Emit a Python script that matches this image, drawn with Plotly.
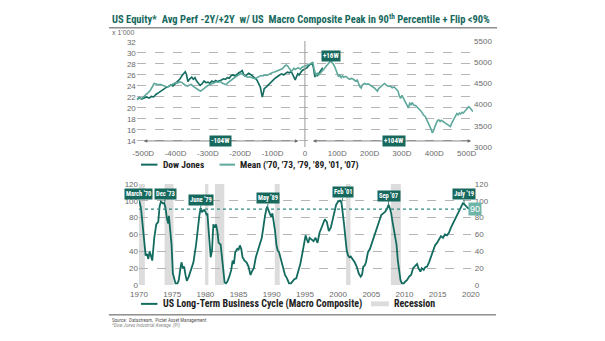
import plotly.graph_objects as go

# ---------------- data ----------------
# Top panel: trading days relative to the macro-composite flip
dow_days = [-520, -512, -505, -498, -490, -482, -475, -468, -460, -452, -445, -438, -430, -422,
            -415, -408, -400, -393, -386, -380, -374, -370, -366, -362, -356, -350, -345, -340,
            -335, -330, -324, -318, -312, -306, -300, -294, -288, -282, -276, -270, -264, -258,
            -252, -246, -240, -234, -228, -222, -216, -210, -204, -198, -194, -190, -185, -180,
            -174, -168, -162, -156, -150, -146, -142, -138, -135, -132, -129, -126, -120, -114,
            -108, -102, -96, -90, -84, -78, -72, -66, -60, -54, -48, -42, -38, -34, -30, -26,
            -22, -18, -14, -10, -6, -2, 2, 6, 10, 14, 18, 22, 26, 28, 31, 34, 38, 42, 46, 50, 55]
dow_values = [21.5, 21.9, 21.6, 21.8, 22.0, 21.8, 22.1, 22.0, 22.5, 22.8, 23.1, 23.5, 23.7, 23.9,
              24.2, 24.0, 24.5, 24.9, 25.3, 25.9, 26.3, 26.6, 26.0, 24.8, 25.3, 25.6, 25.2, 25.5,
              24.9, 24.5, 24.1, 24.4, 24.9, 24.6, 24.7, 24.5, 24.9, 24.7, 25.0, 24.8, 24.9, 25.1,
              25.3, 25.2, 25.5, 25.4, 25.9, 26.0, 25.8, 26.2, 26.4, 26.6, 26.8, 26.2, 25.8, 26.0,
              26.3, 26.1, 25.8, 25.6, 25.2, 24.8, 24.3, 23.8, 22.9, 22.0, 22.6, 23.5, 23.8, 24.2,
              24.6, 24.9, 25.2, 25.5, 25.8, 26.0, 26.2, 26.0, 26.3, 26.5, 26.4, 26.6, 26.1, 25.6,
              25.1, 25.7, 26.2, 26.0, 26.4, 26.7, 26.9, 27.0, 27.2, 27.3, 27.6, 27.8, 28.0, 28.2,
              27.4, 26.2, 25.6, 26.3, 25.8, 26.2, 26.6, 26.9, 27.3]

mean_days = [-520, -512, -505, -498, -490, -484, -478, -472, -466, -460, -454, -448, -442, -436,
             -430, -424, -418, -412, -406, -400, -394, -388, -382, -376, -370, -364, -358, -352,
             -346, -340, -334, -328, -322, -316, -310, -304, -298, -292, -286, -280, -274, -268,
             -262, -256, -250, -244, -238, -232, -226, -220, -214, -208, -202, -196, -190, -184,
             -178, -172, -166, -160, -154, -148, -142, -136, -130, -124, -118, -112, -106, -100,
             -94, -88, -82, -76, -70, -64, -58, -54, -50, -46, -42, -38, -34, -30, -26, -22, -18,
             -14, -10, -6, -2, 2, 6, 10, 14, 18, 22, 25, 28, 31, 34, 38, 42, 46, 50, 55, 60, 65,
             70, 75, 80, 84, 88, 92, 96, 100, 104, 108, 112, 116, 120, 126, 132, 138, 144, 150,
             156, 162, 166, 170, 174, 178, 184, 190, 196, 202, 208, 214, 220, 224, 228, 234, 240,
             246, 252, 258, 264, 270, 276, 282, 288, 292, 296, 300, 304, 308, 312, 316, 320, 324,
             328, 332, 336, 342, 348, 354, 360, 366, 372, 378, 382, 386, 390, 394, 398, 402, 406,
             410, 414, 418, 422, 428, 434, 440, 446, 450, 454, 458, 462, 466, 470, 474, 478, 482,
             486, 490, 494, 498, 502, 506, 510, 514, 518, 520]
mean_values = [4115, 4160, 4140, 4190, 4230, 4290, 4340, 4420, 4500, 4490, 4470, 4480, 4460, 4440,
               4430, 4420, 4450, 4480, 4500, 4520, 4510, 4540, 4530, 4490, 4460, 4440, 4470, 4480,
               4440, 4400, 4380, 4340, 4320, 4360, 4410, 4430, 4460, 4490, 4500, 4520, 4540, 4530,
               4550, 4510, 4480, 4470, 4520, 4560, 4600, 4640, 4660, 4690, 4720, 4740, 4700, 4680,
               4650, 4660, 4640, 4620, 4610, 4640, 4670, 4690, 4680, 4700, 4690, 4720, 4750, 4760,
               4770, 4790, 4810, 4820, 4850, 4900, 4940, 4920, 4870, 4820, 4790, 4820, 4860, 4830,
               4850, 4870, 4860, 4840, 4880, 4900, 4910, 4920, 4930, 4940, 4950, 4960, 4980, 4990,
               4850, 4720, 4690, 4740, 4700, 4730, 4760, 4800, 4850, 4900, 4950, 4990, 5040, 4990,
               4960, 4900, 4820, 4740, 4660, 4700, 4640, 4680, 4650, 4670, 4630, 4600, 4620, 4600,
               4560, 4580, 4500, 4420, 4390, 4470, 4500, 4480, 4490, 4450, 4430, 4400, 4360, 4320,
               4380, 4420, 4470, 4500, 4460, 4430, 4440, 4400, 4420, 4380, 4320, 4200, 4150, 4220,
               4160, 4080, 4020, 3960, 3920, 4030, 4000, 4050, 3990, 3980, 3930, 3900, 3840, 3760,
               3720, 3620, 3560, 3480, 3420, 3330, 3380, 3480, 3560, 3620, 3640, 3600, 3630, 3600,
               3580, 3540, 3500, 3480, 3560, 3620, 3680, 3740, 3790, 3760, 3800, 3780, 3820, 3800,
               3840, 3880, 3920, 3950, 3930, 3900, 3850, 3860]

day_ticks = [-500, -400, -300, -200, -100, 0, 100, 200, 300, 400, 500]
day_tick_text = ["-500D", "-400D", "-300D", "-200D", "-100D", "0", "100D", "200D", "300D", "400D", "500D"]

# Bottom panel: US long-term business cycle (macro composite), 0-100 scale
cycle_years = [1970.0, 1970.1, 1970.3, 1970.6, 1970.8, 1971.0, 1971.2, 1971.4, 1971.6, 1971.8,
               1972.0, 1972.3, 1972.6, 1972.9, 1973.1, 1973.3, 1973.6, 1973.8, 1974.0, 1974.2,
               1974.4, 1974.5, 1974.7, 1974.9, 1975.1, 1975.3, 1975.5, 1975.8, 1976.0, 1976.2,
               1976.4, 1976.6, 1976.8, 1977.0, 1977.2, 1977.5, 1977.8, 1978.2, 1978.6, 1978.9,
               1979.1, 1979.3, 1979.5, 1979.8, 1980.0, 1980.2, 1980.3, 1980.5, 1980.7, 1980.8,
               1981.0, 1981.2, 1981.4, 1981.6, 1981.8, 1982.0, 1982.3, 1982.5, 1982.7, 1982.9,
               1983.1, 1983.3, 1983.6, 1983.9, 1984.1, 1984.3, 1984.5, 1984.8, 1985.0, 1985.2,
               1985.4, 1985.6, 1985.9, 1986.2, 1986.5, 1986.8, 1987.0, 1987.3, 1987.6, 1987.9,
               1988.2, 1988.5, 1988.8, 1989.0, 1989.3, 1989.5, 1989.7, 1989.9, 1990.1, 1990.3,
               1990.5, 1990.7, 1990.9, 1991.1, 1991.4, 1991.7, 1992.0, 1992.3, 1992.6, 1992.9,
               1993.1, 1993.4, 1993.7, 1994.0, 1994.3, 1994.6, 1994.9, 1995.1, 1995.3, 1995.5,
               1995.7, 1996.0, 1996.3, 1996.6, 1996.9, 1997.2, 1997.5, 1997.8, 1998.0, 1998.3,
               1998.6, 1998.9, 1999.1, 1999.4, 1999.7, 2000.0, 2000.3, 2000.5, 2000.7, 2000.9,
               2001.1, 2001.3, 2001.5, 2001.7, 2001.9, 2002.2, 2002.5, 2002.8, 2003.1, 2003.4,
               2003.6, 2003.8, 2004.0, 2004.2, 2004.5, 2004.8, 2005.0, 2005.3, 2005.6, 2005.9,
               2006.2, 2006.5, 2006.8, 2007.1, 2007.4, 2007.6, 2007.8, 2008.0, 2008.2, 2008.4,
               2008.6, 2008.8, 2009.0, 2009.2, 2009.4, 2009.6, 2009.9, 2010.1, 2010.4, 2010.7,
               2011.0, 2011.3, 2011.6, 2011.9, 2012.1, 2012.4, 2012.6, 2012.9, 2013.1, 2013.4,
               2013.7, 2014.0, 2014.3, 2014.6, 2014.9, 2015.2, 2015.5, 2015.8, 2016.1, 2016.4,
               2016.7, 2017.0, 2017.3, 2017.6, 2017.9, 2018.2, 2018.5, 2018.8, 2019.0, 2019.3,
               2019.6, 2019.9]
cycle_values = [100, 98, 91, 64, 48, 35, 37, 31, 40, 33,
                29, 56, 72, 75, 93, 99, 97, 97, 91, 79,
                73, 82, 64, 48, 14, 8, 2, 2, 6, 18,
                27, 20, 22, 12, 5, 10, 18, 27, 48, 72,
                83, 91, 87, 89, 87, 83, 85, 64, 45, 33,
                41, 72, 68, 72, 64, 50, 48, 33, 14, 3,
                2, 4, 10, 18, 29, 25, 39, 43, 42, 47,
                43, 33, 29, 27, 22, 12, 16, 20, 33, 41,
                48, 56, 72, 83, 93, 89, 87, 81, 85, 75,
                64, 48, 41, 39, 31, 20, 12, 8, 2, 2,
                4, 7, 8, 16, 25, 37, 48, 59, 54, 50,
                56, 54, 52, 56, 50, 62, 68, 75, 78, 75,
                64, 68, 75, 85, 95, 99, 100, 98, 87, 72,
                56, 41, 35, 33, 34, 31, 27, 22, 14, 10,
                12, 22, 23, 27, 39, 43, 48, 54, 62, 70,
                77, 83, 85, 87, 91, 95, 91, 85, 75, 66,
                62, 48, 29, 14, 6, 2, 2, 4, 6, 10,
                12, 20, 22, 25, 20, 16, 20, 18, 21, 22,
                27, 33, 39, 47, 50, 54, 58, 56, 60, 59,
                62, 68, 73, 77, 81, 87, 93, 97, 96, 93,
                91, 90]

recessions = [(1969.95, 1970.88), (1973.85, 1975.2), (1979.95, 1980.45), (1981.45, 1982.85),
              (1990.45, 1991.2), (2001.2, 2001.87), (2007.95, 2009.45)]

# Peak labels: (label, peak year, peak value, label year, label height)
peak_labels = [("March '70", 1970.0, 100, 1969.9, 108), ("Dec '73", 1973.85, 97, 1974.0, 108),
               ("June '79", 1979.3, 91, 1979.3, 101), ("May '89", 1989.4, 93, 1989.45, 103),
               ("Feb '01", 2000.6, 99, 2000.8, 110), ("Sep '07", 2007.6, 95, 2007.6, 106),
               ("July '19", 2019.0, 96, 2018.9, 107.5)]
threshold = 90
year_ticks = [1970, 1975, 1980, 1985, 1990, 1995, 2000, 2005, 2010, 2015, 2020]
cycle_ticks = [0, 20, 40, 60, 80, 100, 120]
dow_ticks = [14, 16, 18, 20, 22, 24, 26, 28, 30, 32]
mean_ticks = [3000, 3500, 4000, 4500, 5000, 5500]

# ---------------- styling ----------------
W, H = 605, 341
DARK = "#136b5f"
LIGHT = "#5ea89c"
BOX = "#17695e"
GRID = "#b5b5b5"
TICK = "#6b6b6b"
NARROW = "Liberation Sans Narrow, Roboto Condensed, Arial Narrow, Liberation Sans, sans-serif"
SANS = "Liberation Sans, Arial, sans-serif"


def px_x(v):
    return v / W


def px_y(v):
    return 1 - v / H


fig = go.Figure()

fig.add_trace(go.Scatter(x=dow_days, y=dow_values, mode="lines", name="Dow Jones",
                         line=dict(color=DARK, width=1.6), xaxis="x", yaxis="y",
                         showlegend=False))
fig.add_trace(go.Scatter(x=mean_days, y=mean_values, mode="lines",
                         name="Mean ('70, '73, '79, '89, '01, '07)",
                         line=dict(color=LIGHT, width=1.6), xaxis="x", yaxis="y2",
                         showlegend=False))
fig.add_trace(go.Scatter(x=cycle_years, y=cycle_values, mode="lines",
                         name="US Long-Term Business Cycle (Macro Composite)",
                         line=dict(color=DARK, width=1.8), xaxis="x2", yaxis="y3",
                         showlegend=False))
# empty trace to carry the mirrored right-hand scale of the bottom panel
fig.add_trace(go.Scatter(x=[None], y=[None], xaxis="x2", yaxis="y4", showlegend=False,
                         hoverinfo="skip"))

top_dom = [px_y(147), px_y(38)]
bot_dom = [px_y(288.7), px_y(184.7)]
tickfont = dict(family=SANS, size=8, color=TICK)

fig.update_layout(
    width=W, height=H, margin=dict(l=0, r=0, t=0, b=0),
    paper_bgcolor="white", plot_bgcolor="white", showlegend=False,
    xaxis=dict(domain=[px_x(131.7), px_x(478.3)], range=[-520, 520], tickvals=day_ticks,
               ticktext=day_tick_text, tickfont=tickfont, showgrid=False, zeroline=False,
               showline=False, ticks="", anchor="y"),
    yaxis=dict(domain=top_dom, range=[12.88, 32.18], tickvals=dow_ticks, tickfont=tickfont,
               showgrid=True, gridcolor=GRID, griddash="dash", gridwidth=0.8, zeroline=False,
               showline=False, ticks="", anchor="x"),
    yaxis2=dict(overlaying="y", side="right", range=[2993, 5507], tickvals=mean_ticks,
                tickfont=tickfont, showgrid=False, zeroline=False, showline=False, ticks="",
                anchor="x"),
    xaxis2=dict(domain=[px_x(134), px_x(476)], range=[1970, 2020], tickvals=year_ticks,
                tickfont=tickfont, showgrid=False, zeroline=False, showline=False, ticks="",
                ticklabelstandoff=3, anchor="y3"),
    yaxis3=dict(domain=bot_dom, range=[0, 120], tickvals=cycle_ticks, tickfont=tickfont,
                showgrid=True, gridcolor=GRID, griddash="dash", gridwidth=0.8, zeroline=False,
                showline=False, ticks="", anchor="x2"),
    yaxis4=dict(overlaying="y3", side="right", range=[0, 120], tickvals=cycle_ticks,
                tickfont=tickfont, showgrid=False, zeroline=False, showline=False, ticks="",
                ticklabelstandoff=3, anchor="x2"),
)

shapes = []
annotations = []

# title and rules
annotations.append(dict(xref="paper", yref="paper", x=px_x(104), y=px_y(15), xanchor="left",
                        yanchor="middle", showarrow=False,
                        text="<b>US Equity*  Avg Perf -2Y/+2Y  w/ US  Macro Composite Peak in 90<sup>th</sup> Percentile + Flip <90%</b>",
                        font=dict(family=NARROW, size=10.5, color="#17695e")))
shapes.append(dict(type="line", xref="paper", yref="paper", x0=px_x(103), x1=px_x(503),
                   y0=px_y(24.5), y1=px_y(24.5), line=dict(color="#555555", width=1)))
shapes.append(dict(type="line", xref="paper", yref="paper", x0=px_x(103), x1=px_x(502),
                   y0=px_y(319.3), y1=px_y(319.3), line=dict(color="#555555", width=1)))
annotations.append(dict(xref="paper", yref="paper", x=px_x(104), y=px_y(29.5), xanchor="left",
                        yanchor="middle", showarrow=False, text="x 1'000",
                        font=dict(family=SANS, size=7, color=TICK)))

# zero line of the top panel
shapes.append(dict(type="line", xref="x", yref="paper", x0=0, x1=0, y0=top_dom[0], y1=top_dom[1],
                   line=dict(color="#9a9a9a", width=1)))

# -104W / +104W span arrows
for x0, x1 in [(-503, -20), (20, 514)]:
    annotations.append(dict(xref="x", yref="y", axref="x", ayref="y", x=x1, y=14, ax=x0, ay=14,
                            text="", showarrow=True, arrowhead=2, arrowside="end+start",
                            arrowsize=0.9, arrowwidth=0.8, arrowcolor="#6b6b6b"))
for lbl, xc in [("-104W", -262), ("+104W", 275)]:
    annotations.append(dict(xref="x", yref="y", x=xc, y=14, text="<b>" + lbl + "</b>",
                            showarrow=False, bgcolor=BOX, borderpad=1,
                            font=dict(family=NARROW, size=7, color="white")))
# +16W peak marker
annotations.append(dict(xref="x", yref="y2", axref="x", ayref="y2", x=80, y=5040, ax=80, ay=5150,
                        text="<b>+16W</b>", showarrow=True, arrowhead=0, arrowwidth=0.8,
                        arrowcolor=BOX, bgcolor=BOX, borderpad=1,
                        font=dict(family=NARROW, size=7, color="white")))

# top legend
shapes.append(dict(type="line", xref="paper", yref="paper", x0=px_x(136), x1=px_x(153),
                   y0=px_y(165), y1=px_y(165), line=dict(color=DARK, width=2)))
annotations.append(dict(xref="paper", yref="paper", x=px_x(157), y=px_y(165), xanchor="left",
                        yanchor="middle", showarrow=False, text="<b>Dow Jones</b>",
                        font=dict(family=NARROW, size=9.5, color="#222222")))
shapes.append(dict(type="line", xref="paper", yref="paper", x0=px_x(217), x1=px_x(233),
                   y0=px_y(165), y1=px_y(165), line=dict(color=LIGHT, width=2)))
annotations.append(dict(xref="paper", yref="paper", x=px_x(236), y=px_y(165), xanchor="left",
                        yanchor="middle", showarrow=False,
                        text="<b>Mean ('70, '73, '79, '89, '01, '07)</b>",
                        font=dict(family=NARROW, size=9.5, color="#222222")))

# recession bands
for r0, r1 in recessions:
    shapes.append(dict(type="rect", xref="x2", yref="y3", x0=max(r0, 1970), x1=r1, y0=0, y1=120,
                       fillcolor="#dcdcdc", line=dict(width=0), layer="below"))
# 90th percentile threshold
shapes.append(dict(type="line", xref="x2", yref="y3", x0=1970, x1=2020, y0=threshold,
                   y1=threshold, line=dict(color="#2f8a7e", width=1.2, dash="dot")))
annotations.append(dict(xref="paper", yref="y3", x=px_x(487), y=threshold, text=str(threshold),
                        showarrow=False, bgcolor="#6eb4a9", borderpad=1,
                        font=dict(family=SANS, size=9, color="white")))

# peak labels
for lbl, xp, yp, xb, yb in peak_labels:
    annotations.append(dict(xref="x2", yref="y3", axref="x2", ayref="y3", x=xp, y=yp, ax=xb,
                            ay=yb, text="<b>" + lbl + "</b>", showarrow=True, arrowhead=0,
                            arrowwidth=0.8, arrowcolor=BOX, bgcolor=BOX, borderpad=1,
                            font=dict(family=NARROW, size=6.5, color="white")))

# bottom legend
shapes.append(dict(type="line", xref="paper", yref="paper", x0=px_x(136), x1=px_x(153),
                   y0=px_y(308), y1=px_y(308), line=dict(color=DARK, width=2)))
annotations.append(dict(xref="paper", yref="paper", x=px_x(157), y=px_y(308), xanchor="left",
                        yanchor="middle", showarrow=False,
                        text="<b>US Long-Term Business Cycle (Macro Composite)</b>",
                        font=dict(family=NARROW, size=10, color="#222222")))
shapes.append(dict(type="rect", xref="paper", yref="paper", x0=px_x(373), x1=px_x(391.5),
                   y0=px_y(310.5), y1=px_y(305.5), fillcolor="#dcdcdc", line=dict(width=0)))
annotations.append(dict(xref="paper", yref="paper", x=px_x(395), y=px_y(308), xanchor="left",
                        yanchor="middle", showarrow=False, text="<b>Recession</b>",
                        font=dict(family=NARROW, size=10, color="#222222")))

# source notes
annotations.append(dict(xref="paper", yref="paper", x=px_x(104), y=px_y(324.5), xanchor="left",
                        yanchor="middle", showarrow=False,
                        text="Source:  Datastream,  Pictet Asset Management",
                        font=dict(family=NARROW, size=5, color="#555555")))
annotations.append(dict(xref="paper", yref="paper", x=px_x(104), y=px_y(330), xanchor="left",
                        yanchor="middle", showarrow=False,
                        text="<i>*Dow Jones Industrial Average  (PI)</i>",
                        font=dict(family=NARROW, size=5, color="#888888")))

fig.update_layout(shapes=shapes, annotations=annotations)
fig.write_html("out.html")
